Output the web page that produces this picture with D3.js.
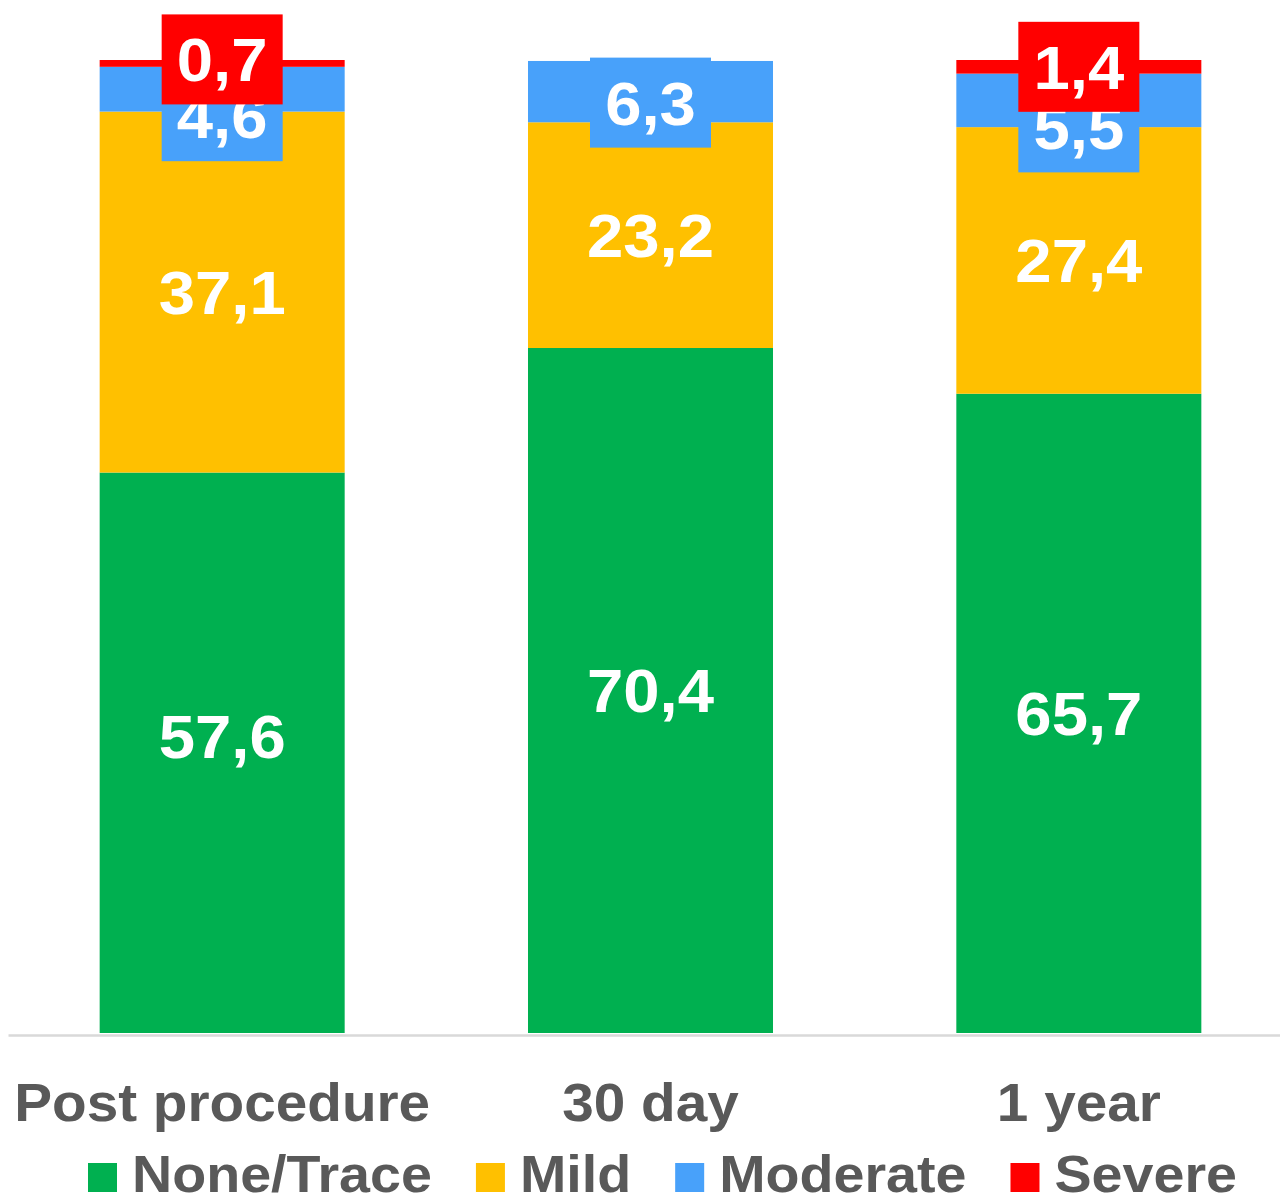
<!DOCTYPE html>
<html>
<head>
<meta charset="utf-8">
<script src="https://cdn.jsdelivr.net/npm/d3@7"></script>
<style>
  body { margin: 0; background: #fff; }
  svg { display: block; font-family: "Liberation Sans", Arial, sans-serif; }
</style>
</head>
<body>
<div id="chart"></div>
<script>
// data
const categories = ["Post procedure", "30 day", "1 year"];
const seriesNames = ["None/Trace", "Mild", "Moderate", "Severe"];
const noneTrace = [57.6, 70.4, 65.7];
const mild = [37.1, 23.2, 27.4];
const moderate = [4.6, 6.3, 5.5];
const severe = [0.7, 0, 1.4];

const colors = ["#00B050", "#FFC000", "#48A1FA", "#FF0000"];
const TEXT_GRAY = "#595959";
const SX = 1.07; // the reference is slightly stretched horizontally

// labels of the small segments sit in a filled box, some moved by Excel
const boxedSeries = ["Moderate", "Severe"];
const labelShift = {
  "Post procedure": { "None/Trace": -17, "Moderate": 27, "Severe": -4 },
  "30 day": { "Moderate": 11 },
  "1 year": { "Moderate": 27 }
};

const W = 1280, H = 1204;
const BASE_Y = 1033, TOP_Y = 60;

const svg = d3.select("#chart").append("svg")
  .attr("width", W).attr("height", H);

const table = categories.map((c, i) => ({
  cat: c,
  "None/Trace": noneTrace[i], "Mild": mild[i], "Moderate": moderate[i], "Severe": severe[i]
}));
const stacked = d3.stack().keys(seriesNames)(table);

const x = d3.scaleBand().domain(categories)
  .range([8, 1293]).paddingInner(0.428).paddingOuter(0.214);
const y = d3.scaleLinear().domain([0, 100]).range([BASE_Y, TOP_Y]);
const color = d3.scaleOrdinal().domain(seriesNames).range(colors);

// bars
svg.append("g").selectAll("g")
  .data(stacked).enter().append("g")
  .attr("fill", d => color(d.key))
  .selectAll("rect")
  .data(d => d.filter(s => s[1] - s[0] > 0))
  .enter().append("rect")
  .attr("x", d => x(d.data.cat))
  .attr("y", d => y(d[1]))
  .attr("width", x.bandwidth())
  .attr("height", d => y(d[0]) - y(d[1]));

// axis line + category labels
const xAxis = svg.append("g")
  .attr("transform", `translate(0, ${BASE_Y + 2})`)
  .call(d3.axisBottom(x).tickSize(0).tickPadding(0));
xAxis.select(".domain").attr("stroke", "#D9D9D9").attr("stroke-width", 2.5);
xAxis.selectAll("text")
  .attr("y", 86).attr("dy", 0)
  .attr("transform", `scale(${SX},1)`)
  .attr("fill", TEXT_GRAY)
  .style("font-size", "53px").style("font-weight", "bold")
  .style("font-family", "'Liberation Sans', Arial, sans-serif");

// data labels
const fmt = v => String(v).replace(".", ",");
const labels = [];
stacked.forEach(layer => {
  layer.forEach(s => {
    const v = s.data[layer.key];
    if (v <= 0) return;
    const shift = (labelShift[s.data.cat] || {})[layer.key] || 0;
    labels.push({
      key: layer.key, cat: s.data.cat, v: v,
      cx: x(s.data.cat) + x.bandwidth() / 2,
      cy: y((s[0] + s[1]) / 2) + shift
    });
  });
});

const lab = svg.append("g").selectAll("g")
  .data(labels).enter().append("g")
  .attr("transform", d => `translate(${d.cx}, ${d.cy})`);
lab.filter(d => boxedSeries.includes(d.key))
  .append("rect")
  .attr("x", -60.5).attr("y", -45).attr("width", 121).attr("height", 90)
  .attr("fill", d => color(d.key));
lab.append("text")
  .attr("text-anchor", "middle")
  .attr("dy", "0.36em")
  .attr("transform", `scale(${SX},1)`)
  .attr("fill", "#fff")
  .style("font-size", "61px").style("font-weight", "bold")
  .text(d => fmt(d.v));

// legend
const legend = svg.append("g").attr("transform", "translate(88, 1163)");
let lx = 0;
seriesNames.forEach(name => {
  const item = legend.append("g").attr("transform", `translate(${lx}, 0)`);
  item.append("rect").attr("width", 29).attr("height", 29).attr("fill", color(name));
  const t = item.append("text")
    .attr("x", 44 / SX).attr("y", 29)
    .attr("transform", `scale(${SX},1)`)
    .attr("fill", TEXT_GRAY)
    .style("font-size", "52px").style("font-weight", "bold")
    .text(name);
  lx += 44 + t.node().getComputedTextLength() * SX + 44;
});
</script>
</body>
</html>
